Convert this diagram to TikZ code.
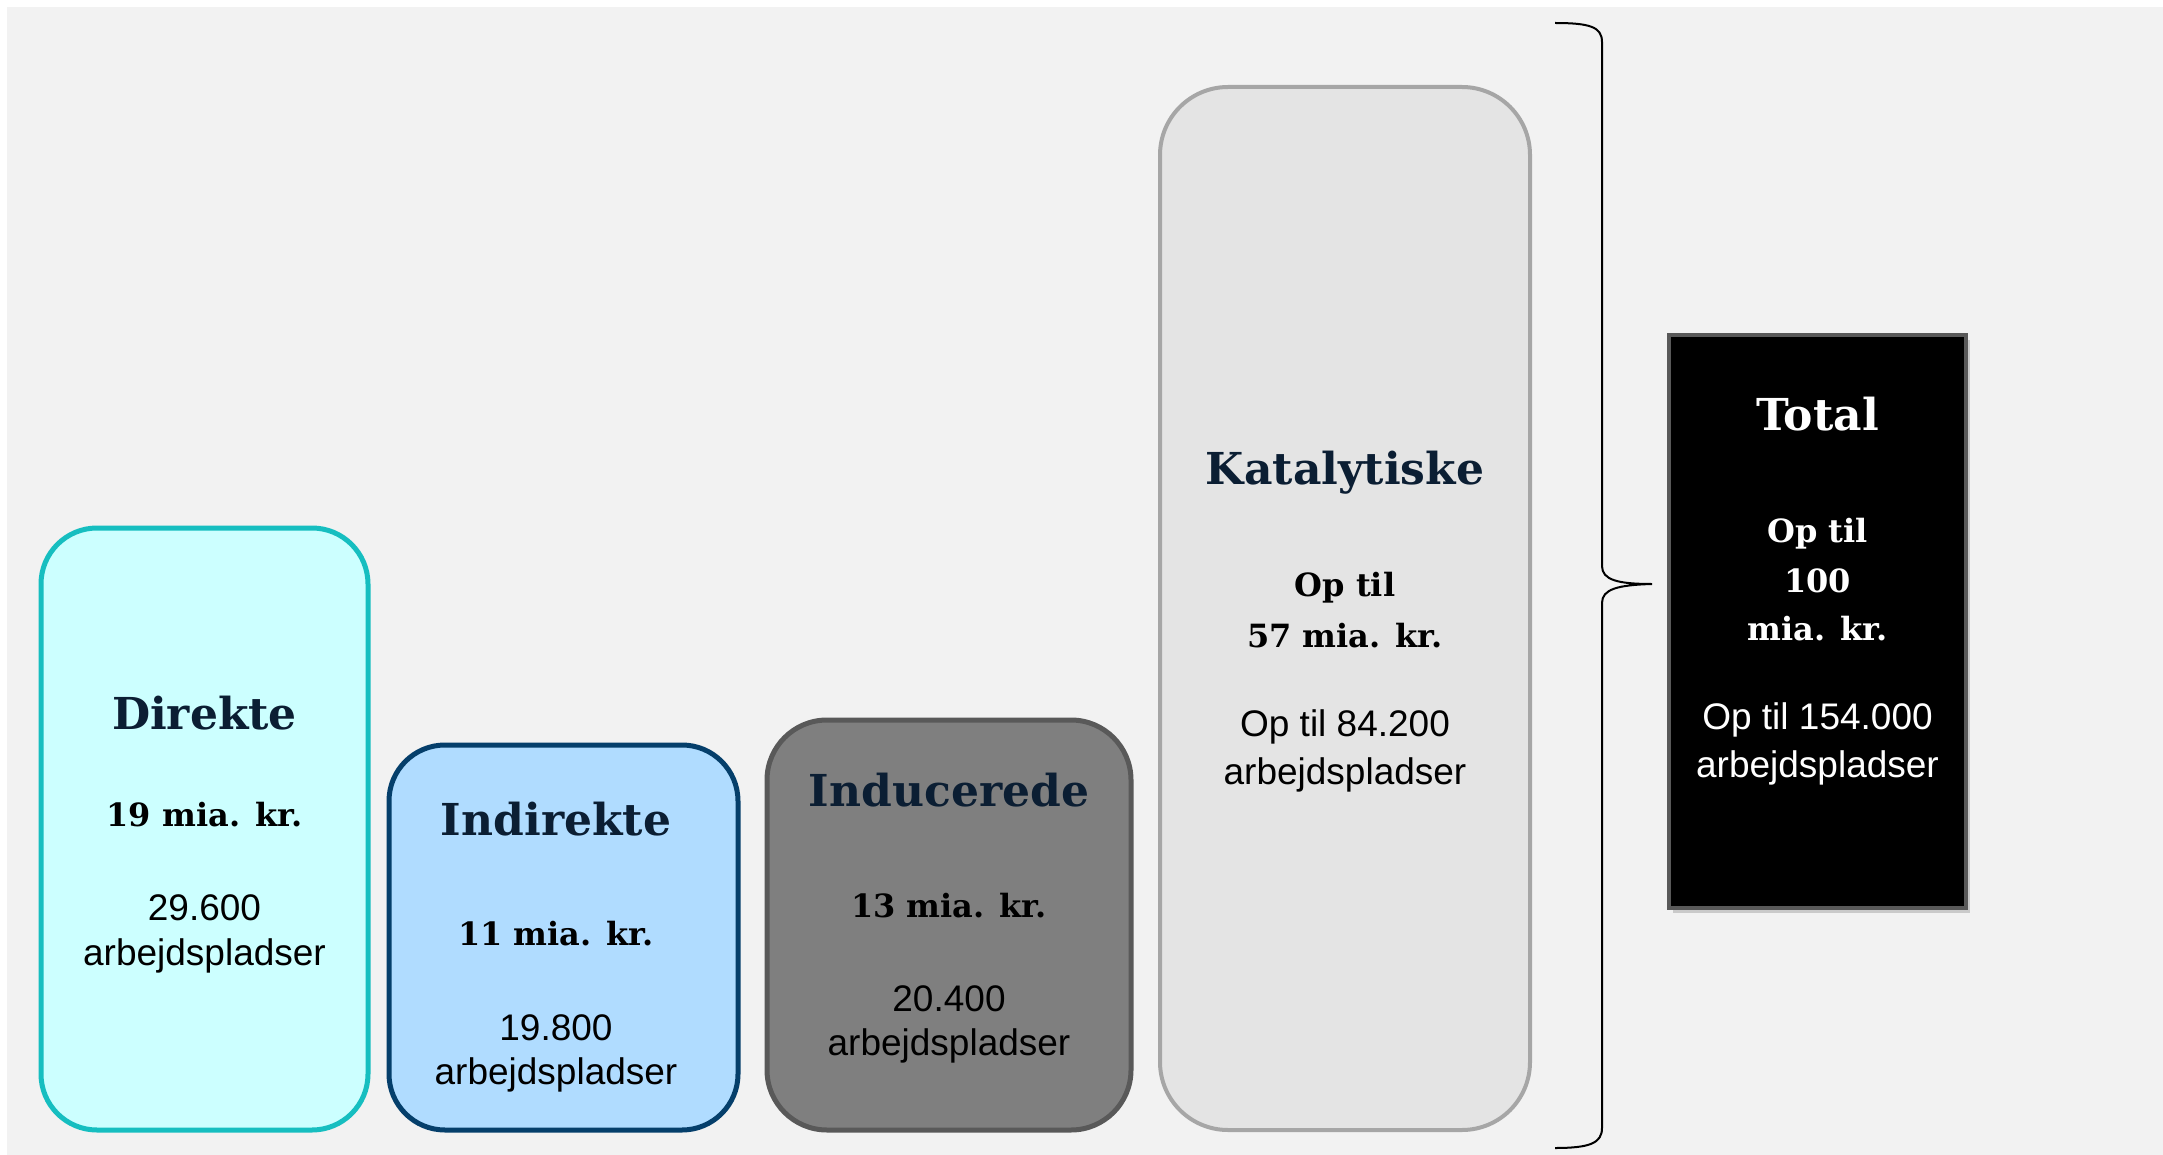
\documentclass[tikz,border=0pt]{standalone}
\usepackage{fontspec}
\setmainfont{Liberation Sans}
\newfontfamily\titlefont{DejaVu Serif}
\usetikzlibrary{shadows}
\definecolor{bggray}{HTML}{F2F2F2}
\definecolor{navytext}{HTML}{0B1E33}
\definecolor{dirfill}{HTML}{CCFFFF}
\definecolor{dirline}{HTML}{16BEC0}
\definecolor{indfill}{HTML}{B0DCFF}
\definecolor{indline}{HTML}{053F6B}
\definecolor{inufill}{HTML}{7F7F7F}
\definecolor{inuline}{HTML}{595959}
\definecolor{katfill}{HTML}{E4E4E4}
\definecolor{katline}{HTML}{A6A6A6}
\definecolor{totline}{HTML}{595959}
\tikzset{
  barbox/.style={draw, line width=2.5pt, inner sep=0pt, outer sep=0pt},
  ttl/.style={font=\titlefont\bfseries\fontsize{22}{26}\selectfont, text=navytext, inner sep=0pt},
  amt/.style={font=\titlefont\bfseries\fontsize{16}{20}\selectfont, text=black, inner sep=0pt},
  job/.style={font=\fontsize{18.5}{23.5}\selectfont, text=black, inner sep=0pt},
}
\begin{document}
\begin{tikzpicture}[x=0.5pt,y=-0.5pt]
\useasboundingbox (0,0) rectangle (2163,1155);
\fill[white] (0,0) rectangle (2163,1155);
\fill[bggray] (7,7) rectangle (2163,1155);

% boxes
\node[barbox, fill=dirfill, draw=dirline, rounded corners=28pt, minimum width=163.5pt, minimum height=301pt] (dir) at (204.5,829) {};
\node[barbox, fill=indfill, draw=indline, rounded corners=28pt, minimum width=174.5pt, minimum height=192.5pt] (ind) at (563.5,937.5) {};
\node[barbox, fill=inufill, draw=inuline, rounded corners=30pt, minimum width=182pt, minimum height=205pt] (inu) at (949,925) {};
\node[barbox, fill=katfill, draw=katline, line width=2pt, rounded corners=34pt, minimum width=185pt, minimum height=521.5pt] (kat) at (1345,608.5) {};
\node[barbox, fill=black, draw=totline, line width=2pt, drop shadow={shadow xshift=2pt, shadow yshift=-2.5pt, opacity=0.35}, minimum width=148.5pt, minimum height=286.5pt] (tot) at (1817.5,621.5) {};

% Direkte
\node[ttl] (dirt) at (204.5,713) {Direkte};
\node[amt] (dira) at (204.5,815) {19 mia. kr.};
\node[job] (dirj1) at (204.5,908) {29.600};
\node[job] (dirj2) at (204.5,956) {arbejdspladser};

% Indirekte
\node[ttl] (indt) at (556,819) {Indirekte};
\node[amt] (inda) at (556,934) {11 mia. kr.};
\node[job] (indj1) at (556,1028) {19.800};
\node[job] (indj2) at (556,1075) {arbejdspladser};

% Inducerede
\node[ttl] (inut) at (949,790) {Inducerede};
\node[amt] (inua) at (949,906) {13 mia. kr.};
\node[job] (inuj1) at (949,999) {20.400};
\node[job] (inuj2) at (949,1046) {arbejdspladser};

% Katalytiske
\node[ttl] (katt) at (1345,473) {Katalytiske};
\node[amt] (kata1) at (1345,588) {Op til};
\node[amt] (kata2) at (1345,636) {57 mia. kr.};
\node[job] (katj1) at (1345,727) {Op til 84.200};
\node[job] (katj2) at (1345,775) {arbejdspladser};

% Total
\node[ttl, text=white] (tott) at (1817.5,414) {Total};
\node[amt, text=white] (tota1) at (1817.5,534) {Op til};
\node[amt, text=white] (tota2) at (1817.5,581) {100};
\node[amt, text=white] (tota3) at (1817.5,629) {mia. kr.};
\node[job, text=white] (totj1) at (1817.5,720) {Op til 154.000};
\node[job, text=white] (totj2) at (1817.5,768) {arbejdspladser};

% brace
\coordinate (btop) at (1555,23);
\coordinate (btip) at (1652,584);
\coordinate (bbot) at (1555,1148);
\draw[line width=1pt, black]
  (btop) .. controls (1590,23) and (1602,27) .. (1602,42)
  -- (1602,566) .. controls (1602,580) and (1618,584) .. (btip)
  .. controls (1618,585) and (1602,589) .. (1602,603)
  -- (1602,1128) .. controls (1602,1143) and (1590,1148) .. (bbot);
\end{tikzpicture}
\end{document}
